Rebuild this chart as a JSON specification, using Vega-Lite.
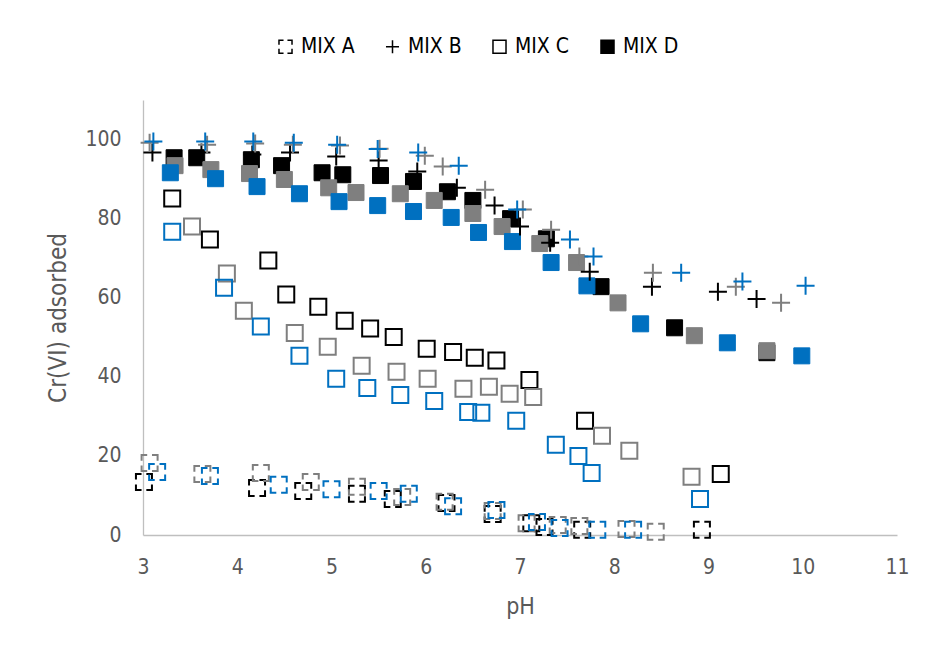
{
  "$schema": "https://vega.github.io/schema/vega-lite/v6.json",
  "autosize": {"type": "none"},
  "width": 754,
  "height": 435,
  "padding": {"left": 143, "top": 100, "right": 32, "bottom": 115},
  "background": "white",
  "config": {
    "view": {"stroke": null},
    "font": "Liberation Sans Narrow, DejaVu Sans Condensed, sans-serif"
  },
  "data": {"values": [
    {"mix":"MIX A","shade":"black","pH":3.01,"cr":13.4},
    {"mix":"MIX A","shade":"black","pH":4.21,"cr":11.9},
    {"mix":"MIX A","shade":"black","pH":4.70,"cr":11.1},
    {"mix":"MIX A","shade":"black","pH":5.27,"cr":10.4},
    {"mix":"MIX A","shade":"black","pH":5.65,"cr":9.1},
    {"mix":"MIX A","shade":"black","pH":6.22,"cr":8.1},
    {"mix":"MIX A","shade":"black","pH":6.71,"cr":5.3},
    {"mix":"MIX A","shade":"black","pH":7.12,"cr":3.0},
    {"mix":"MIX A","shade":"black","pH":7.26,"cr":2.0},
    {"mix":"MIX A","shade":"black","pH":7.66,"cr":1.3},
    {"mix":"MIX A","shade":"black","pH":8.93,"cr":1.3},
    {"mix":"MIX A","shade":"gray","pH":3.07,"cr":18.2},
    {"mix":"MIX A","shade":"gray","pH":3.63,"cr":15.4},
    {"mix":"MIX A","shade":"gray","pH":4.25,"cr":15.7},
    {"mix":"MIX A","shade":"gray","pH":4.78,"cr":13.4},
    {"mix":"MIX A","shade":"gray","pH":5.27,"cr":12.2},
    {"mix":"MIX A","shade":"gray","pH":5.75,"cr":9.6},
    {"mix":"MIX A","shade":"gray","pH":6.20,"cr":8.4},
    {"mix":"MIX A","shade":"gray","pH":6.71,"cr":6.1},
    {"mix":"MIX A","shade":"gray","pH":7.07,"cr":3.0},
    {"mix":"MIX A","shade":"gray","pH":7.40,"cr":2.5},
    {"mix":"MIX A","shade":"gray","pH":7.63,"cr":2.3},
    {"mix":"MIX A","shade":"gray","pH":8.13,"cr":1.5},
    {"mix":"MIX A","shade":"gray","pH":8.44,"cr":0.8},
    {"mix":"MIX A","shade":"blue","pH":3.15,"cr":15.9},
    {"mix":"MIX A","shade":"blue","pH":3.71,"cr":14.9},
    {"mix":"MIX A","shade":"blue","pH":4.44,"cr":12.7},
    {"mix":"MIX A","shade":"blue","pH":5.00,"cr":11.6},
    {"mix":"MIX A","shade":"blue","pH":5.50,"cr":11.1},
    {"mix":"MIX A","shade":"blue","pH":5.82,"cr":10.4},
    {"mix":"MIX A","shade":"blue","pH":6.29,"cr":7.3},
    {"mix":"MIX A","shade":"blue","pH":6.75,"cr":6.3},
    {"mix":"MIX A","shade":"blue","pH":7.18,"cr":3.3},
    {"mix":"MIX A","shade":"blue","pH":7.42,"cr":1.8},
    {"mix":"MIX A","shade":"blue","pH":7.82,"cr":1.3},
    {"mix":"MIX A","shade":"blue","pH":8.20,"cr":1.3},
    {"mix":"MIX B","shade":"black","pH":3.10,"cr":96.7},
    {"mix":"MIX B","shade":"black","pH":3.62,"cr":96.7},
    {"mix":"MIX B","shade":"black","pH":4.16,"cr":96.2},
    {"mix":"MIX B","shade":"black","pH":4.56,"cr":96.7},
    {"mix":"MIX B","shade":"black","pH":5.05,"cr":95.7},
    {"mix":"MIX B","shade":"black","pH":5.50,"cr":94.7},
    {"mix":"MIX B","shade":"black","pH":5.91,"cr":91.9},
    {"mix":"MIX B","shade":"black","pH":6.33,"cr":87.8},
    {"mix":"MIX B","shade":"black","pH":6.73,"cr":83.3},
    {"mix":"MIX B","shade":"black","pH":7.00,"cr":78.0},
    {"mix":"MIX B","shade":"black","pH":7.32,"cr":73.9},
    {"mix":"MIX B","shade":"black","pH":7.74,"cr":66.6},
    {"mix":"MIX B","shade":"black","pH":8.40,"cr":62.8},
    {"mix":"MIX B","shade":"black","pH":9.10,"cr":61.5},
    {"mix":"MIX B","shade":"black","pH":9.51,"cr":59.7},
    {"mix":"MIX B","shade":"gray","pH":3.07,"cr":99.2},
    {"mix":"MIX B","shade":"gray","pH":3.68,"cr":98.7},
    {"mix":"MIX B","shade":"gray","pH":4.19,"cr":99.0},
    {"mix":"MIX B","shade":"gray","pH":4.59,"cr":98.7},
    {"mix":"MIX B","shade":"gray","pH":5.09,"cr":98.5},
    {"mix":"MIX B","shade":"gray","pH":5.51,"cr":97.7},
    {"mix":"MIX B","shade":"gray","pH":5.99,"cr":95.9},
    {"mix":"MIX B","shade":"gray","pH":6.18,"cr":93.2},
    {"mix":"MIX B","shade":"gray","pH":6.63,"cr":87.3},
    {"mix":"MIX B","shade":"gray","pH":7.03,"cr":82.3},
    {"mix":"MIX B","shade":"gray","pH":7.33,"cr":77.2},
    {"mix":"MIX B","shade":"gray","pH":7.63,"cr":70.4},
    {"mix":"MIX B","shade":"gray","pH":8.41,"cr":66.3},
    {"mix":"MIX B","shade":"gray","pH":9.29,"cr":62.8},
    {"mix":"MIX B","shade":"gray","pH":9.77,"cr":58.7},
    {"mix":"MIX B","shade":"blue","pH":3.11,"cr":99.5},
    {"mix":"MIX B","shade":"blue","pH":3.66,"cr":99.5},
    {"mix":"MIX B","shade":"blue","pH":4.17,"cr":99.5},
    {"mix":"MIX B","shade":"blue","pH":4.60,"cr":99.2},
    {"mix":"MIX B","shade":"blue","pH":5.06,"cr":98.7},
    {"mix":"MIX B","shade":"blue","pH":5.49,"cr":97.6},
    {"mix":"MIX B","shade":"blue","pH":5.92,"cr":96.7},
    {"mix":"MIX B","shade":"blue","pH":6.35,"cr":93.4},
    {"mix":"MIX B","shade":"blue","pH":6.97,"cr":82.3},
    {"mix":"MIX B","shade":"blue","pH":7.53,"cr":74.7},
    {"mix":"MIX B","shade":"blue","pH":7.78,"cr":70.4},
    {"mix":"MIX B","shade":"blue","pH":8.71,"cr":66.3},
    {"mix":"MIX B","shade":"blue","pH":9.36,"cr":64.1},
    {"mix":"MIX B","shade":"blue","pH":10.03,"cr":63.0},
    {"mix":"MIX C","shade":"black","pH":3.31,"cr":85.1},
    {"mix":"MIX C","shade":"black","pH":3.71,"cr":74.7},
    {"mix":"MIX C","shade":"black","pH":4.33,"cr":69.4},
    {"mix":"MIX C","shade":"black","pH":4.52,"cr":60.8},
    {"mix":"MIX C","shade":"black","pH":4.86,"cr":57.7},
    {"mix":"MIX C","shade":"black","pH":5.14,"cr":54.2},
    {"mix":"MIX C","shade":"black","pH":5.41,"cr":52.2},
    {"mix":"MIX C","shade":"black","pH":5.66,"cr":50.1},
    {"mix":"MIX C","shade":"black","pH":6.01,"cr":47.1},
    {"mix":"MIX C","shade":"black","pH":6.29,"cr":46.3},
    {"mix":"MIX C","shade":"black","pH":6.52,"cr":44.8},
    {"mix":"MIX C","shade":"black","pH":6.75,"cr":44.1},
    {"mix":"MIX C","shade":"black","pH":7.10,"cr":39.2},
    {"mix":"MIX C","shade":"black","pH":7.69,"cr":28.9},
    {"mix":"MIX C","shade":"black","pH":9.13,"cr":15.4},
    {"mix":"MIX C","shade":"gray","pH":3.52,"cr":78.0},
    {"mix":"MIX C","shade":"gray","pH":3.89,"cr":66.1},
    {"mix":"MIX C","shade":"gray","pH":4.07,"cr":56.7},
    {"mix":"MIX C","shade":"gray","pH":4.61,"cr":51.1},
    {"mix":"MIX C","shade":"gray","pH":4.96,"cr":47.6},
    {"mix":"MIX C","shade":"gray","pH":5.32,"cr":42.8},
    {"mix":"MIX C","shade":"gray","pH":5.69,"cr":41.3},
    {"mix":"MIX C","shade":"gray","pH":6.02,"cr":39.5},
    {"mix":"MIX C","shade":"gray","pH":6.40,"cr":37.0},
    {"mix":"MIX C","shade":"gray","pH":6.67,"cr":37.5},
    {"mix":"MIX C","shade":"gray","pH":6.89,"cr":35.7},
    {"mix":"MIX C","shade":"gray","pH":7.14,"cr":34.9},
    {"mix":"MIX C","shade":"gray","pH":7.87,"cr":25.1},
    {"mix":"MIX C","shade":"gray","pH":8.16,"cr":21.3},
    {"mix":"MIX C","shade":"gray","pH":8.82,"cr":14.7},
    {"mix":"MIX C","shade":"blue","pH":3.31,"cr":76.7},
    {"mix":"MIX C","shade":"blue","pH":3.86,"cr":62.5},
    {"mix":"MIX C","shade":"blue","pH":4.25,"cr":52.7},
    {"mix":"MIX C","shade":"blue","pH":4.66,"cr":45.3},
    {"mix":"MIX C","shade":"blue","pH":5.05,"cr":39.5},
    {"mix":"MIX C","shade":"blue","pH":5.38,"cr":37.2},
    {"mix":"MIX C","shade":"blue","pH":5.73,"cr":35.4},
    {"mix":"MIX C","shade":"blue","pH":6.09,"cr":33.9},
    {"mix":"MIX C","shade":"blue","pH":6.45,"cr":31.1},
    {"mix":"MIX C","shade":"blue","pH":6.59,"cr":30.9},
    {"mix":"MIX C","shade":"blue","pH":6.96,"cr":28.9},
    {"mix":"MIX C","shade":"blue","pH":7.38,"cr":22.8},
    {"mix":"MIX C","shade":"blue","pH":7.62,"cr":20.0},
    {"mix":"MIX C","shade":"blue","pH":7.76,"cr":15.7},
    {"mix":"MIX C","shade":"blue","pH":8.91,"cr":9.1},
    {"mix":"MIX D","shade":"black","pH":3.33,"cr":95.4},
    {"mix":"MIX D","shade":"black","pH":3.57,"cr":95.4},
    {"mix":"MIX D","shade":"black","pH":4.15,"cr":94.9},
    {"mix":"MIX D","shade":"black","pH":4.47,"cr":93.4},
    {"mix":"MIX D","shade":"black","pH":4.90,"cr":91.6},
    {"mix":"MIX D","shade":"black","pH":5.12,"cr":91.1},
    {"mix":"MIX D","shade":"black","pH":5.52,"cr":90.9},
    {"mix":"MIX D","shade":"black","pH":5.87,"cr":89.4},
    {"mix":"MIX D","shade":"black","pH":6.23,"cr":86.8},
    {"mix":"MIX D","shade":"black","pH":6.50,"cr":84.6},
    {"mix":"MIX D","shade":"black","pH":6.90,"cr":80.0},
    {"mix":"MIX D","shade":"black","pH":7.28,"cr":74.9},
    {"mix":"MIX D","shade":"black","pH":7.86,"cr":62.8},
    {"mix":"MIX D","shade":"black","pH":8.64,"cr":52.4},
    {"mix":"MIX D","shade":"black","pH":9.62,"cr":46.1},
    {"mix":"MIX D","shade":"gray","pH":3.34,"cr":93.4},
    {"mix":"MIX D","shade":"gray","pH":3.72,"cr":92.4},
    {"mix":"MIX D","shade":"gray","pH":4.13,"cr":91.4},
    {"mix":"MIX D","shade":"gray","pH":4.50,"cr":89.9},
    {"mix":"MIX D","shade":"gray","pH":4.97,"cr":87.8},
    {"mix":"MIX D","shade":"gray","pH":5.26,"cr":86.6},
    {"mix":"MIX D","shade":"gray","pH":5.73,"cr":86.3},
    {"mix":"MIX D","shade":"gray","pH":6.09,"cr":84.6},
    {"mix":"MIX D","shade":"gray","pH":6.50,"cr":81.3},
    {"mix":"MIX D","shade":"gray","pH":6.81,"cr":78.0},
    {"mix":"MIX D","shade":"gray","pH":7.21,"cr":73.7},
    {"mix":"MIX D","shade":"gray","pH":7.60,"cr":68.9},
    {"mix":"MIX D","shade":"gray","pH":8.04,"cr":58.7},
    {"mix":"MIX D","shade":"gray","pH":8.85,"cr":50.4},
    {"mix":"MIX D","shade":"gray","pH":9.62,"cr":46.6},
    {"mix":"MIX D","shade":"blue","pH":3.29,"cr":91.6},
    {"mix":"MIX D","shade":"blue","pH":3.77,"cr":90.1},
    {"mix":"MIX D","shade":"blue","pH":4.21,"cr":88.1},
    {"mix":"MIX D","shade":"blue","pH":4.66,"cr":86.3},
    {"mix":"MIX D","shade":"blue","pH":5.08,"cr":84.3},
    {"mix":"MIX D","shade":"blue","pH":5.49,"cr":83.3},
    {"mix":"MIX D","shade":"blue","pH":5.87,"cr":81.8},
    {"mix":"MIX D","shade":"blue","pH":6.27,"cr":80.3},
    {"mix":"MIX D","shade":"blue","pH":6.56,"cr":76.5},
    {"mix":"MIX D","shade":"blue","pH":6.92,"cr":74.2},
    {"mix":"MIX D","shade":"blue","pH":7.33,"cr":68.9},
    {"mix":"MIX D","shade":"blue","pH":7.71,"cr":63.0},
    {"mix":"MIX D","shade":"blue","pH":8.28,"cr":53.4},
    {"mix":"MIX D","shade":"blue","pH":9.20,"cr":48.6},
    {"mix":"MIX D","shade":"blue","pH":9.99,"cr":45.3}
  ]},
  "encoding": {
    "x": {
      "field": "pH", "type": "quantitative",
      "scale": {"domain": [3, 11], "nice": false, "zero": false},
      "axis": {
        "values": [3, 4, 5, 6, 7, 8, 9, 10, 11],
        "ticks": false, "grid": false,
        "domainColor": "#bfbfbf", "domainWidth": 1.3,
        "labelColor": "#595959", "labelFontSize": 21, "labelPadding": 21,
        "labelFlush": false, "labelOverlap": false,
        "title": "pH", "titleFontSize": 23, "titleColor": "#595959",
        "titleFontWeight": "normal", "titlePadding": 18
      }
    },
    "y": {
      "field": "cr", "type": "quantitative",
      "scale": {"domain": [0, 110], "nice": false},
      "axis": {
        "values": [0, 20, 40, 60, 80, 100],
        "ticks": false, "grid": false,
        "domainColor": "#bfbfbf", "domainWidth": 1.3,
        "labelColor": "#595959", "labelFontSize": 21, "labelPadding": 22,
        "title": "Cr(VI) adsorbed", "titleFontSize": 24, "titleColor": "#595959",
        "titleFontWeight": "normal", "titlePadding": 14
      }
    },
    "color": {
      "field": "shade", "type": "nominal",
      "scale": {"domain": ["black", "gray", "blue"], "range": ["#000000", "#7f7f7f", "#0070c0"]},
      "legend": null
    },
    "fill": {
      "field": "mix", "type": "nominal",
      "scale": {
        "domain": ["MIX A", "MIX B", "MIX C", "MIX D"],
        "range": ["transparent", "transparent", "transparent", "#000000"]
      },
      "legend": {
        "title": null,
        "orient": "none",
        "direction": "horizontal",
        "legendX": 132,
        "legendY": -64,
        "labelFontSize": 21,
        "labelColor": "#000000",
        "labelOffset": 5,
        "columnPadding": 27,
        "symbolSize": 170,
        "symbolFillColor": "transparent",
        "symbolStrokeWidth": 1.5,
        "symbolOpacity": 1
      }
    },
    "shape": {
      "field": "mix", "type": "nominal",
      "scale": {
        "domain": ["MIX A", "MIX B", "MIX C", "MIX D"],
        "range": [
          "M-0.3,-1H-1V-0.3M-1,0.3V1H-0.3M0.3,1H1V0.3M1,-0.3V-1H0.3",
          "M-1,0H1M0,-1V1",
          "square",
          "square"
        ]
      },
      "legend": {
        "title": null,
        "orient": "none",
        "direction": "horizontal",
        "legendX": 132,
        "legendY": -64,
        "labelFontSize": 21,
        "labelColor": "#000000",
        "labelOffset": 5,
        "columnPadding": 27,
        "symbolSize": 170,
        "symbolFillColor": "transparent",
        "symbolStrokeWidth": 1.5,
        "symbolOpacity": 1
      }
    }
  },
  "layer": [
    {
      "transform": [{"filter": "datum.mix === 'MIX A' || datum.mix === 'MIX C'"}],
      "mark": {"type": "point", "filled": false, "size": 256, "strokeWidth": 2, "opacity": 1}
    },
    {
      "transform": [{"filter": "datum.mix === 'MIX D'"}],
      "mark": {"type": "point", "filled": true, "size": 256, "strokeWidth": 1, "opacity": 1},
      "encoding": {
        "fill": {
          "condition": [
            {"test": "datum.shade === 'gray'", "value": "#7f7f7f"},
            {"test": "datum.shade === 'blue'", "value": "#0070c0"}
          ],
          "value": "#000000"
        },
        "stroke": {
          "condition": [
            {"test": "datum.shade === 'gray'", "value": "#7f7f7f"},
            {"test": "datum.shade === 'blue'", "value": "#0070c0"}
          ],
          "value": "#000000"
        }
      }
    },
    {
      "transform": [{"filter": "datum.mix === 'MIX B'"}],
      "mark": {"type": "point", "filled": false, "size": 324, "strokeWidth": 2, "opacity": 1}
    }
  ]
}
